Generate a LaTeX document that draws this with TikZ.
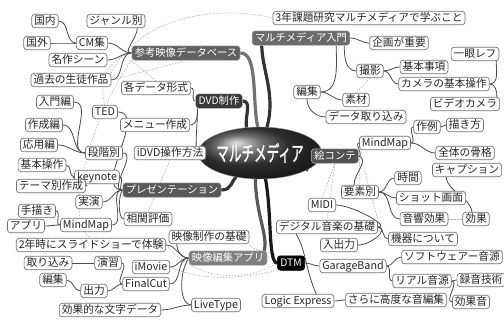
\documentclass[tikz,border=0pt]{standalone}
\usepackage{fontspec}
\newfontfamily\jp{Noto Sans CJK JP}
\newfontfamily\jpb[FakeBold=1.6]{Noto Sans CJK JP}
\usetikzlibrary{calc,shapes.geometric,shadings}
\pgfdeclarelayer{back}
\pgfdeclarelayer{bg}
\pgfsetlayers{back,bg,main}
\begin{document}
\begin{tikzpicture}[x=1pt,y=-1pt,
 leaf/.style={draw=black!55, line width=0.7pt, rounded corners=3pt, fill=white, inner xsep=2.5pt, inner ysep=1.5pt, text height=8.4pt, text depth=2.1pt, font=\jp\fontsize{10.7}{12}\selectfont, text=black!85},
 branch/.style={rounded corners=3pt, inner xsep=3pt, inner ysep=2pt, text height=8.4pt, text depth=2.1pt, text=white, font=\jp\fontsize{10.3}{12}\selectfont, draw=black!25, line width=0.5pt},
 lk/.style={draw=black!70, line width=0.8pt},
 trunk/.style={draw=black!80, line width=3.2pt, line cap=round},
 rel/.style={draw=black!35, line width=0.5pt, dash pattern=on 1.5pt off 1.5pt}]
\begin{pgfonlayer}{back}
\fill[white] (0,0) rectangle (504,322);
\end{pgfonlayer}
\useasboundingbox (0,0) rectangle (504,322);

% centre
\node[ellipse, minimum width=90pt, minimum height=52pt, ball color=black!75, draw=black!40, line width=0.4pt, text=white, inner sep=0pt] (center) at (260,153)
 {\scalebox{0.6}[1]{\jpb\fontsize{21}{21}\selectfont マルチメディア}};

% branches
\node[branch, fill=black!62] (ref) at (186,53) {参考映像データベース};
\node[branch, fill=black!58] (intro) at (301,38) {マルチメディア入門};
\node[branch, fill=black!78] (dvd) at (219,101) {DVD制作};
\node[branch, fill=black!65] (pres) at (172,190) {プレゼンテーション};
\node[branch, fill=black!68] (ekon) at (335,156) {絵コンテ};
\node[branch, fill=black!50] (apps) at (228,258) {映像編集アプリ};
\node[branch, fill=black, draw=black] (dtm) at (291,263) {DTM};

% leaves top-left
\node[leaf] (kokunai) at (45,21) {国内};
\node[leaf] (kokugai) at (37,43) {国外};
\node[leaf] (cm) at (92,43) {CM集};
\node[leaf] (genre) at (116,21) {ジャンル別};
\node[leaf] (meisaku) at (78,60) {名作シーン};
\node[leaf] (kako) at (71,80) {過去の生徒作品};
\node[leaf] (kaku) at (156,88) {各データ形式};
\node[leaf] (menu) at (155,125) {メニュー作成};
\node[leaf] (idvd) at (170,153) {iDVD操作方法};

% top-right
\node[leaf] (goal) at (369,18) {3年課題研究マルチメディアで学ぶこと};
\node[leaf] (kikaku) at (399,43) {企画が重要};
\node[leaf] (ichigan) at (475,54) {一眼レフ};
\node[leaf] (satsuei) at (370,71) {撮影};
\node[leaf] (kihonjiko) at (424,67) {基本事項};
\node[leaf] (camera) at (444,84) {カメラの基本操作};
\node[leaf] (video) at (465,104) {ビデオカメラ};
\node[leaf] (henR) at (307,92) {編集};
\node[leaf] (sozai) at (356,100) {素材};
\node[leaf] (torikomiR) at (366,117) {データ取り込み};

% right middle
\node[leaf] (sakurei) at (427,127) {作例};
\node[leaf] (kakikata) at (465,125) {描き方};
\node[leaf] (mmR) at (385,143) {MindMap};
\node[leaf] (kokaku) at (465,153) {全体の骨格};
\node[leaf] (caption) at (467,170) {キャプション};
\node[leaf] (jikan) at (408,178) {時間};
\node[leaf] (yoso) at (360,192) {要素別};
\node[leaf] (shot) at (431,198) {ショット画面};
\node[leaf] (onkyo) at (424,219) {音響効果};
\node[leaf] (koka) at (476,219) {効果};

% bottom-right
\node[leaf] (midi) at (322,205) {MIDI};
\node[leaf] (digital) at (327,227) {デジタル音楽の基礎};
\node[leaf] (io) at (339,245) {入出力};
\node[leaf] (kiki) at (423,239) {機器について};
\node[leaf] (garage) at (353,266) {GarageBand};
\node[leaf] (soft) at (452,257) {ソフトウェアー音源};
\node[leaf] (real) at (422,281) {リアル音源};
\node[leaf] (rokuon) at (481,280) {録音技術};
\node[leaf] (kokaon) at (471,302) {効果音};
\node[leaf] (sarani) at (396,300) {さらに高度な音編集};
\node[leaf] (logic) at (298,301) {Logic Express};

% left
\node[leaf] (ted) at (105,112) {TED};
\node[leaf] (nyumon) at (55,102) {入門編};
\node[leaf] (sakusei) at (44,125) {作成編};
\node[leaf] (oyo) at (39,145) {応用編};
\node[leaf] (dankai) at (104,153) {段階別};
\node[leaf] (kihon) at (42,165) {基本操作};
\node[leaf] (keynote) at (97,177) {keynote};
\node[leaf] (theme) at (51,186) {テーマ別作成};
\node[leaf] (jitsuen) at (89,202) {実演};
\node[leaf] (tegaki) at (37,211) {手描き};
\node[leaf] (mmL) at (86,225) {MindMap};
\node[leaf] (app) at (26,226) {アプリ};
\node[leaf] (sokan) at (148,219) {相関評価};

% bottom-left
\node[leaf] (ninen) at (91,245) {2年時にスライドショーで体験};
\node[leaf] (kiso) at (209,237) {映像制作の基礎};
\node[leaf] (torikomiL) at (48,263) {取り込み};
\node[leaf] (enshu) at (108,263) {演習};
\node[leaf] (imovie) at (151,267) {iMovie};
\node[leaf] (henL) at (53,280) {編集};
\node[leaf] (shutsu) at (94,291) {出力};
\node[leaf] (final) at (146,284) {FinalCut};
\node[leaf] (livetype) at (216,305) {LiveType};
\node[leaf] (moji) at (110,310) {効果的な文字データ};

\begin{pgfonlayer}{bg}
% relation lines
\draw[rel] (kako.north east) .. controls (140,15) and (220,5) .. (goal.west);
\draw[rel] (ref.south west) .. controls (95,110) and (60,220) .. (ninen.north);
\draw[rel] (kako.east) -- (ref.south);
\draw[rel] (kaku.north) -- (ref.south west);
\draw[rel] (ninen.east) .. controls (200,285) and (250,280) .. (dtm.west);
\draw[rel] (imovie.east) .. controls (210,285) and (255,275) .. (dtm.south west);
\draw[rel] (kiso.south east) .. controls (250,250) and (270,252) .. (dtm.north west);
\draw[rel] (idvd.south) -- (sokan.north);
\draw[rel] (satsuei.south) -- (sozai.north);
\draw[rel] (ekon.south) -- (midi.north);
\draw[rel] (ekon.south) -- (digital.north);
\draw[rel] (mmR.south west) -- (digital.north east);
\draw[rel] (mmR.south west) -- (yoso.north);
\draw[rel] (onkyo.east) -- (koka.west);
\draw[rel] (ted.north) .. controls (95,70) and (120,55) .. (ref.west);

% thin connectors
\draw[lk] (ref.west) to[out=180,in=0] (cm.east);
\draw[lk] (ref.west) to[out=180,in=0] (meisaku.east);
\draw[lk] (ref.west) to[out=180,in=0] (kako.east);
\draw[lk] (ref.west) to[out=180,in=-90] ([xshift=-8pt]genre.south east);
\draw[lk] (cm.west) to[out=180,in=0] (kokunai.east);
\draw[lk] (cm.west) to[out=180,in=0] (kokugai.east);

\draw[lk] (intro.east) to[out=0,in=180] (kikaku.west);
\draw[lk] ([xshift=-6pt]intro.south east) to[out=-90,in=180] (satsuei.west);
\draw[lk] ([xshift=-14pt]intro.south east) to[out=-90,in=0] (henR.east);
\draw[lk] (satsuei.east) to[out=0,in=180] (kihonjiko.west);
\draw[lk] (satsuei.east) to[out=0,in=180] (camera.west);
\draw[lk] (camera.east) to[out=0,in=-90] ([xshift=-3pt]ichigan.south east);
\draw[lk] (camera.east) to[out=0,in=90] ([xshift=-3pt]video.north east);
\draw[lk] (henR.east) to[out=0,in=180] (sozai.west);
\draw[lk] (henR.south) to[out=-90,in=180] (torikomiR.west);

\draw[lk] (ekon.east) to[out=0,in=180] (mmR.west);
\draw[lk] (ekon.east) to[out=-20,in=90] ([xshift=-6pt]yoso.north);
\draw[lk] (mmR.east) to[out=0,in=180] (sakurei.west);
\draw[lk] (mmR.east) to[out=0,in=180] (kokaku.west);
\draw[lk] (sakurei.east) -- (kakikata.west);
\draw[lk] ([xshift=14pt]caption.south west) to[out=-80,in=100] ([xshift=-4pt]koka.north);
\draw[lk] (yoso.east) to[out=0,in=180] (jikan.west);
\draw[lk] (yoso.east) to[out=0,in=180] (shot.west);
\draw[lk] (yoso.east) to[out=0,in=180] (onkyo.west);

\draw[lk] ([xshift=20pt]digital.south west) .. controls (306,250) and (306,272) .. ([xshift=-18pt]logic.north east);
\draw[lk] (dtm.east) to[out=0,in=180] (garage.west);
\draw[lk] (digital.east) .. controls (392,227) and (352,205) .. (midi.east);
\draw[lk] (digital.east) .. controls (390,228) and (372,245) .. (io.east);
\draw[lk] (digital.east) to[out=0,in=180] (kiki.west);
\draw[lk] (garage.east) to[out=0,in=180] (soft.west);
\draw[lk] (garage.east) to[out=0,in=180] (real.west);
\draw[lk] (real.east) to[out=0,in=180] (rokuon.west);
\draw[lk] (real.east) to[out=0,in=180] (kokaon.west);
\draw[lk] (logic.east) to[out=0,in=180] (sarani.west);

\draw[lk] (pres.west) to[out=180,in=0] (ted.east);
\draw[lk] (pres.west) to[out=180,in=0] (dankai.east);
\draw[lk] (pres.west) to[out=180,in=0] (keynote.east);
\draw[lk] (pres.west) to[out=180,in=0] (jitsuen.east);
\draw[lk] (pres.west) to[out=180,in=0] (mmL.east);
\draw[lk] (pres.west) .. controls (118,196) and (118,219) .. (sokan.west);
\draw[lk] (dankai.west) to[out=180,in=0] (nyumon.east);
\draw[lk] (dankai.west) to[out=180,in=0] (sakusei.east);
\draw[lk] (dankai.west) to[out=180,in=0] (oyo.east);
\draw[lk] (keynote.west) to[out=180,in=0] (kihon.east);
\draw[lk] (keynote.west) to[out=180,in=0] (theme.east);
\draw[lk] (mmL.west) to[out=180,in=0] (tegaki.east);
\draw[lk] (mmL.west) to[out=180,in=0] (app.east);

\draw[lk] (dvd.west) to[out=180,in=0] (kaku.east);
\draw[lk] ([xshift=2pt]dvd.south west) to[out=-90,in=90] ([xshift=-10pt]idvd.north east);
\draw[lk] ([xshift=2pt]dvd.south west) to[out=-90,in=0] (menu.east);

\draw[lk] (apps.west) to[out=180,in=-90] ([xshift=8pt]kiso.south west);
\draw[lk] (apps.west) to[out=180,in=0] (ninen.east);
\draw[lk] (apps.west) to[out=180,in=0] (imovie.east);
\draw[lk] (apps.west) to[out=180,in=0] (final.east);
\draw[lk] (apps.west) .. controls (178,275) and (180,305) .. (livetype.west);
\draw[lk] (final.west) to[out=180,in=0] (enshu.east);
\draw[lk] (final.west) to[out=180,in=0] (shutsu.east);
\draw[lk] (enshu.west) -- (torikomiL.east);
\draw[lk] (shutsu.west) to[out=180,in=0] (henL.east);
\draw[lk] (livetype.west) to[out=180,in=0] (moji.east);

% thick trunks
\draw[trunk, draw=black!55] (ref.east) .. controls (258,53) and (252,100) .. (center.95);
\draw[trunk] (center.75) .. controls (276,95) and (262,70) .. ($(intro.south west)+(10,0)$);
\draw[trunk] (dvd.east) .. controls (252,101) and (245,115) .. (center.118);
\draw[trunk] (pres.east) .. controls (232,190) and (232,180) .. (center.225);
\draw[trunk] (center.-20) .. controls (306,162) and (306,156) .. (ekon.west);
\draw[trunk, draw=black!65] (center.-100) .. controls (256,215) and (268,235) .. ($(apps.north east)+(-3,0)$);
\draw[trunk, draw=black!90] (center.-78) .. controls (272,215) and (268,262) .. (dtm.west);
\end{pgfonlayer}
\end{tikzpicture}
\end{document}
